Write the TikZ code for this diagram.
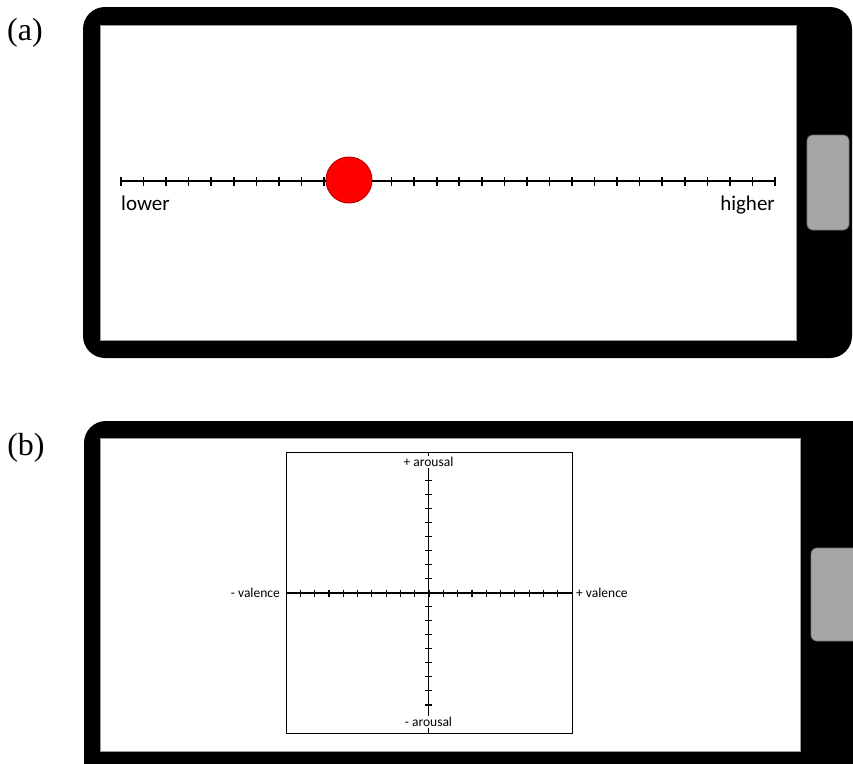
\documentclass[tikz,border=0pt]{standalone}
\usepackage{fontspec}
\setmainfont{Liberation Serif}
\newfontfamily\calibri{Carlito}
\begin{document}
\begin{tikzpicture}[x=1pt,y=-1pt]
  \tikzset{phone/.style={fill=black, rounded corners=22pt},
           screen/.style={fill=white, draw=black!40, line width=0.9pt},
           homebtn/.style={fill=black!35, draw=black!55, line width=0.8pt, rounded corners=6pt},
           tickmark/.style={line width=1.2pt},
           panel/.style={font=\fontsize{32}{36}\selectfont, anchor=base, inner sep=0pt},
           sliderlbl/.style={font=\calibri\fontsize{21}{24}\selectfont, inner sep=0pt},
           axislbl/.style={font=\calibri\fontsize{13.5}{15}\selectfont, inner sep=1pt, fill=white}}
  \clip (0,0) rectangle (853,763);

  % (a) one-dimensional slider
  \node[panel] (lbla) at (25,40) {(a)};
  \fill[phone] (83,7) rectangle (852,358);
  \filldraw[screen] (100,25) rectangle (796,340);
  \filldraw[homebtn] (807,135) rectangle (849,230);
  \draw[line width=2.2pt] (121,181) -- (775,181);
  \foreach \i in {0,...,29}
    \draw[line width=1.6pt] ({121+22.55*\i},177) -- ++(0,9);
  \node[circle, fill=red, draw=red!75!black, line width=1pt, minimum size=46pt, inner sep=0pt] (knob) at (349,180) {};
  \node[sliderlbl, anchor=base west] (lower) at (121,210) {lower};
  \node[sliderlbl, anchor=base east] (higher) at (775,210) {higher};

  % (b) valence / arousal plane
  \node[panel] (lblb) at (26,455) {(b)};
  \fill[phone] (84,421) rectangle (880,790);
  \filldraw[screen] (100,438) rectangle (800,751);
  \filldraw[homebtn] (811,548) rectangle (870,641);
  \draw[line width=1pt] (286,452) rectangle (572,733);
  \draw[tickmark] (286,593) -- (572,593);
  \draw[tickmark] (428.5,452) -- (428.5,733);
  \foreach \i in {1,...,19} {
    \draw[tickmark] ({286+14.3*\i},589.5) -- ++(0,7);
    \draw[tickmark] (425,{452+14.05*\i}) -- ++(7,0);
  }
  \node[axislbl, anchor=base] (aplus) at (428.5,466.7) {+ arousal};
  \node[axislbl, anchor=base] (aminus) at (428.5,726.7) {- arousal};
  \node[axislbl, anchor=base east] (vminus) at (281,597) {- valence};
  \node[axislbl, anchor=base west] (vplus) at (575,597) {+ valence};
\end{tikzpicture}
\end{document}
